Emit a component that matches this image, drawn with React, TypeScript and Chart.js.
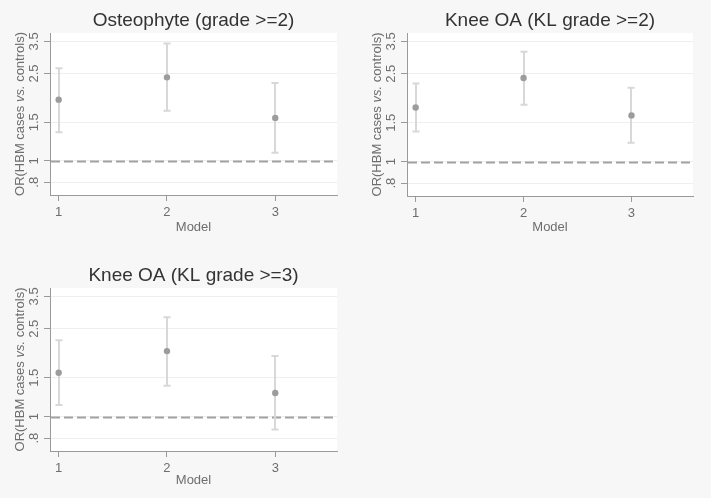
import React, { useEffect, useRef } from "react";
import { Chart, registerables } from "chart.js";

Chart.register(...registerables);

// ---- data ----
const models = [1, 2, 3];
const yTickValues = [0.8, 1, 1.5, 2.5, 3.5];
const yTickLabels = [".8", "1", "1.5", "2.5", "3.5"];

const titles = ["Osteophyte (grade >=2)", "Knee OA (KL grade >=2)", "Knee OA (KL grade >=3)"];

const osteoOR = [1.9, 2.4, 1.57];
const osteoLo = [1.35, 1.69, 1.09];
const osteoHi = [2.64, 3.42, 2.26];

const kl2OR = [1.76, 2.39, 1.62];
const kl2Lo = [1.37, 1.81, 1.22];
const kl2Hi = [2.26, 3.14, 2.16];

const kl3OR = [1.58, 1.98, 1.28];
const kl3Lo = [1.13, 1.38, 0.876];
const kl3Hi = [2.22, 2.82, 1.88];

const refValue = 1;

type PanelSpec = {
  title: string;
  or: number[];
  lo: number[];
  hi: number[];
  left: number;
  top: number;
  width: number;
  height: number;
  area: { left: number; right: number; top: number; bottom: number };
};

const panels: PanelSpec[] = [
  { title: titles[0], or: osteoOR, lo: osteoLo, hi: osteoHi, left: 0, top: 0, width: 355, height: 245,
    area: { left: 50, right: 337, top: 33, bottom: 195 } },
  { title: titles[1], or: kl2OR, lo: kl2Lo, hi: kl2Hi, left: 355, top: 0, width: 356, height: 245,
    area: { left: 52, right: 338, top: 33, bottom: 196 } },
  { title: titles[2], or: kl3OR, lo: kl3Lo, hi: kl3Hi, left: 0, top: 245, width: 355, height: 253,
    area: { left: 50, right: 337, top: 43, bottom: 206 } },
];

const FONT = "'Liberation Sans', Arial, sans-serif";
const TEXT = "#6e6e6e";
const AXIS = "#9a9a9a";

function Panel({ spec }: { spec: PanelSpec }) {
  const ref = useRef<HTMLCanvasElement | null>(null);
  useEffect(() => {
    if (!ref.current) return;
    const a = spec.area;
    const decorPlugin = {
      id: "decor",
      beforeDatasetsDraw(chart: any) {
        const { ctx, chartArea, scales } = chart;
        const y = scales.y;
        const x = scales.x;
        ctx.save();
        const yr = Math.round(y.getPixelForValue(refValue)) + 0.5;
        ctx.strokeStyle = "#a2a2a2";
        ctx.lineWidth = 1.8;
        ctx.setLineDash([9, 4]);
        ctx.beginPath();
        ctx.moveTo(chartArea.left + 1, yr);
        ctx.lineTo(chartArea.right, yr);
        ctx.stroke();
        ctx.setLineDash([]);
        // error bars
        ctx.strokeStyle = "#d8d8d8";
        ctx.lineWidth = 2;
        for (let i = 0; i < models.length; i++) {
          const px = Math.round(x.getPixelForValue(models[i]));
          const p1 = y.getPixelForValue(spec.lo[i]);
          const p2 = y.getPixelForValue(spec.hi[i]);
          ctx.beginPath();
          ctx.moveTo(px, p1);
          ctx.lineTo(px, p2);
          ctx.moveTo(px - 3.5, p1);
          ctx.lineTo(px + 3.5, p1);
          ctx.moveTo(px - 3.5, p2);
          ctx.lineTo(px + 3.5, p2);
          ctx.stroke();
        }
        ctx.restore();
      },
      afterDraw(chart: any) {
        const { ctx, chartArea, scales } = chart;
        const y = scales.y;
        ctx.save();
        ctx.fillStyle = TEXT;
        ctx.font = `13px ${FONT}`;
        ctx.textAlign = "center";
        ctx.textBaseline = "middle";
        for (let i = 0; i < yTickValues.length; i++) {
          const py = y.getPixelForValue(yTickValues[i]);
          ctx.save();
          ctx.translate(chartArea.left - 16, py);
          ctx.rotate(-Math.PI / 2);
          ctx.fillText(yTickLabels[i], 0, 0);
          ctx.restore();
        }
        const parts = [
          { t: "OR(HBM cases ", f: `13px ${FONT}` },
          { t: "vs.", f: `italic 13px ${FONT}` },
          { t: " controls)", f: `13px ${FONT}` },
        ];
        let total = 0;
        for (const p of parts) { ctx.font = p.f; total += ctx.measureText(p.t).width; }
        ctx.save();
        ctx.translate(chartArea.left - 30, (chartArea.top + chartArea.bottom) / 2);
        ctx.rotate(-Math.PI / 2);
        ctx.textAlign = "left";
        let cx = -total / 2;
        for (const p of parts) {
          ctx.font = p.f;
          ctx.fillText(p.t, cx, 0);
          cx += ctx.measureText(p.t).width;
        }
        ctx.restore();
        ctx.fillStyle = "#333333";
        ctx.font = `19px ${FONT}`;
        ctx.textAlign = "center";
        ctx.fillText(spec.title, (chartArea.left + chartArea.right) / 2, chartArea.top - 12);
        ctx.restore();
      },
    };
    const bgPlugin = {
      id: "bgArea",
      beforeDraw(chart: any) {
        const { ctx, chartArea } = chart;
        ctx.save();
        ctx.fillStyle = "#ffffff";
        ctx.fillRect(chartArea.left, chartArea.top, chartArea.right - chartArea.left, chartArea.bottom - chartArea.top);
        ctx.restore();
      },
    };
    const chart = new Chart(ref.current, {
      type: "scatter",
      data: {
        datasets: [
          {
            data: models.map((m, i) => ({ x: m, y: spec.or[i] })),
            backgroundColor: "#9c9c9c",
            borderColor: "#9c9c9c",
            pointRadius: 3.2,
            borderWidth: 0,
          },
        ],
      },
      options: {
        animation: false,
        responsive: false,
        devicePixelRatio: 1,
        events: [],
        layout: {
          padding: { left: 0, top: a.top, right: spec.width - a.right, bottom: 0 },
        },
        plugins: { legend: { display: false }, title: { display: false }, tooltip: { enabled: false } },
        scales: {
          x: {
            type: "linear",
            min: 0.92,
            max: 3.57,
            afterBuildTicks: (s: any) => { s.ticks = models.map((v) => ({ value: v })); },
            afterFit: (s: any) => { s.height = spec.height - a.bottom; },
            border: { display: true, color: AXIS, width: 1 },
            grid: { drawOnChartArea: false, drawTicks: true, tickLength: 6, tickColor: AXIS, color: AXIS },
            ticks: { color: TEXT, font: { size: 13, family: FONT }, padding: 4, callback: (v: any) => String(v) },
            title: { display: true, text: "Model", color: TEXT, font: { size: 13, family: FONT }, padding: { top: 0, bottom: 10 } },
          },
          y: {
            type: "logarithmic",
            min: 0.731,
            max: 3.82,
            afterBuildTicks: (s: any) => { s.ticks = yTickValues.map((v) => ({ value: v })); },
            afterFit: (s: any) => { s.width = a.left; },
            border: { display: true, color: AXIS, width: 1 },
            grid: { drawOnChartArea: true, drawTicks: true, tickLength: 6, tickColor: AXIS, color: "#efefef", lineWidth: 1 },
            ticks: { display: false },
          },
        },
      },
      plugins: [bgPlugin, decorPlugin],
    } as any);
    return () => chart.destroy();
  }, [spec]);
  return (
    <canvas
      ref={ref}
      width={spec.width}
      height={spec.height}
      style={{ position: "absolute", left: spec.left, top: spec.top, width: spec.width, height: spec.height }}
    />
  );
}

export default function App() {
  return (
    <div style={{ position: "fixed", left: 0, top: 0, width: 711, height: 498, background: "#f7f7f7", overflow: "hidden" }}>
      {panels.map((p, i) => (
        <Panel key={i} spec={p} />
      ))}
    </div>
  );
}
